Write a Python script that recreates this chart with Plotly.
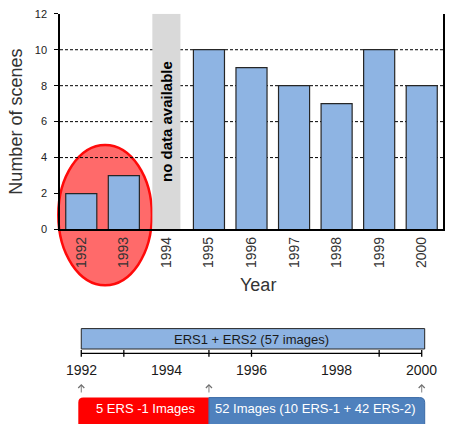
import plotly.graph_objects as go

# ---------------- data ----------------
years = ["1992", "1993", "1994", "1995", "1996", "1997", "1998", "1999", "2000"]
scenes = [2, 3, None, 10, 9, 8, 7, 10, 8]
no_data_years = ["1994"]
no_data_value = 12
grid_values = [4, 6, 8, 10]
y_ticks = [0, 2, 4, 6, 8, 10, 12]

timeline_start = 1992
timeline_end = 2000
timeline_split = 1995
timeline_label_years = [1992, 1994, 1996, 1998, 2000]
timeline_tick_years = [1992, 1993, 1995, 1996, 1999, 2000]
arrow_years = [1992, 1995, 2000]
top_box_text = "ERS1 + ERS2 (57 images)"
left_box_text = "5 ERS -1 Images"
right_box_text = "52 Images (10 ERS-1 + 42 ERS-2)"
highlight_years = ["1992", "1993"]

# ---------------- geometry (layout) ----------------
W, H = 449, 424
XD = [60 / W, 443 / W]
YD = [(H - 230) / H, (H - 8) / H]
YR = [0, 12]
n = len(years)
YEAR_PX = (XD[1] - XD[0]) * W / n  # pixels per year on the timeline


def cat_to_paper(c):
    return XD[0] + (c + 0.5) / n * (XD[1] - XD[0])


def val_to_paper(v):
    return YD[0] + (v - YR[0]) / (YR[1] - YR[0]) * (YD[1] - YD[0])


def py(pix):
    return (H - pix) / H


def rounded_bar(x0, x1, y0, y1, round_left, round_right, r_px=5):
    rx = r_px / YEAR_PX
    ry = r_px / H
    p = f"M{x0},{y0} "
    if round_left:
        p += f"L{x0},{y1 - ry} Q{x0},{y1} {x0 + rx},{y1} "
    else:
        p += f"L{x0},{y1} "
    if round_right:
        p += f"L{x1 - rx},{y1} Q{x1},{y1} {x1},{y1 - ry} "
    else:
        p += f"L{x1},{y1} "
    p += f"L{x1},{y0} Z"
    return p


fig = go.Figure()

# gray "no data" band
fig.add_trace(go.Bar(
    x=no_data_years, y=[no_data_value] * len(no_data_years),
    marker=dict(color="#d9d9d9", line=dict(width=0)),
    width=0.66, hoverinfo="skip", showlegend=False,
))
# data bars
fig.add_trace(go.Bar(
    x=years, y=scenes,
    marker=dict(color="#8eb4e3", line=dict(color="#262626", width=1.2)),
    width=0.73, showlegend=False,
))

shapes = []
# highlight ellipse around the first two years
i0 = years.index(highlight_years[0])
i1 = years.index(highlight_years[-1])
mid = (i0 + i1) / 2 + 0.06
shapes.append(dict(
    type="circle", xref="paper", yref="paper", layer="below",
    x0=cat_to_paper(mid - 1.1), x1=cat_to_paper(mid + 1.1),
    y0=val_to_paper(-3.1), y1=val_to_paper(4.7),
    fillcolor="rgba(255,90,90,0.9)", line=dict(color="#ff0a0a", width=2.5),
))
# dashed grid lines
for g in grid_values:
    shapes.append(dict(
        type="line", xref="paper", yref="y", layer="below",
        x0=XD[0], x1=XD[1], y0=g, y1=g,
        line=dict(color="black", width=1, dash="3px,2px"),
    ))

# timeline: top box
pad = 0.07
shapes.append(dict(
    type="rect", xref="x2", yref="paper", layer="below",
    x0=timeline_start, x1=timeline_end + pad, y0=py(353), y1=py(332),
    fillcolor="#8db3e2", line=dict(color="#262626", width=1),
))
# timeline axis line
shapes.append(dict(
    type="line", xref="x2", yref="paper",
    x0=timeline_start, x1=timeline_end, y0=py(357.5), y1=py(357.5),
    line=dict(color="black", width=1.3),
))
for t in timeline_tick_years:
    shapes.append(dict(
        type="line", xref="x2", yref="paper",
        x0=t, x1=t, y0=py(354), y1=py(361),
        line=dict(color="black", width=1.3),
    ))
# bottom bars
shapes.append(dict(
    type="path", xref="x2", yref="paper", layer="below",
    path=rounded_bar(timeline_start - pad, timeline_split, -0.02, py(403), True, False),
    fillcolor="#ff0000", line=dict(width=0),
))
shapes.append(dict(
    type="path", xref="x2", yref="paper", layer="below",
    path=rounded_bar(timeline_split, timeline_end + pad, -0.02, py(403), False, True),
    fillcolor="#4f81bd", line=dict(color="#3a6aa6", width=1),
))

annotations = []
annotations.append(dict(
    x=years.index(no_data_years[0]), y=6, xref="x", yref="y", text="<b>no data available</b>",
    textangle=-90, showarrow=False, xanchor="center", yanchor="middle",
    font=dict(family="Arial", size=15, color="black"),
))
annotations.append(dict(
    x=16 / W, y=val_to_paper(6), xref="paper", yref="paper", text="Number of scenes",
    textangle=-90, showarrow=False, xanchor="center", yanchor="middle",
    font=dict(family="Arial", size=18, color="#333333"),
))
annotations.append(dict(
    x=258 / W, y=py(287), xref="paper", yref="paper", text="Year",
    showarrow=False, xanchor="center", yanchor="middle",
    font=dict(family="Arial", size=18, color="#333333"),
))
annotations.append(dict(
    x=(timeline_start + timeline_end) / 2, y=py(343), xref="x2", yref="paper",
    text=top_box_text, showarrow=False, xanchor="center", yanchor="middle",
    font=dict(family="Arial", size=13, color="#1a1a1a"),
))
for t in timeline_label_years:
    annotations.append(dict(
        x=t, y=py(375), xref="x2", yref="paper", text=str(t), showarrow=False,
        xanchor="center", yanchor="middle",
        font=dict(family="Arial", size=14, color="#1a1a1a"),
    ))
for t in arrow_years:
    annotations.append(dict(
        x=t, y=py(389), xref="x2", yref="paper", text="", showarrow=True,
        ax=0, ay=10, arrowhead=4, arrowsize=1.3, arrowwidth=0.9, arrowcolor="#707070",
    ))
annotations.append(dict(
    x=(timeline_start + timeline_split) / 2, y=py(414), xref="x2", yref="paper",
    text=left_box_text, showarrow=False, xanchor="center", yanchor="middle",
    font=dict(family="Arial", size=13, color="white"),
))
annotations.append(dict(
    x=(timeline_split + timeline_end) / 2, y=py(414), xref="x2", yref="paper",
    text=right_box_text, showarrow=False, xanchor="center", yanchor="middle",
    font=dict(family="Arial", size=13, color="white"),
))

# dummy invisible trace on timeline axis
fig.add_trace(go.Scatter(x=[timeline_start, timeline_end], y=[0, 0], xaxis="x2", yaxis="y2",
                         mode="markers", marker=dict(opacity=0), hoverinfo="skip", showlegend=False))

fig.update_layout(
    width=W, height=H,
    margin=dict(l=0, r=0, t=0, b=0),
    paper_bgcolor="white", plot_bgcolor="rgba(0,0,0,0)",
    barmode="overlay",
    xaxis=dict(
        domain=XD, type="category", categoryorder="array", categoryarray=years,
        range=[-0.5, n - 0.5], showline=True, linecolor="black", linewidth=1.5,
        ticks="", tickangle=-90, showgrid=False, zeroline=False,
        tickfont=dict(family="Arial", size=14, color="#333333"),
    ),
    yaxis=dict(
        domain=YD, range=YR, tickvals=y_ticks, showline=True, mirror=True,
        linecolor="black", linewidth=1.5, ticks="outside", ticklen=4, tickcolor="black",
        showgrid=False, zeroline=False, ticklabelstandoff=5,
        tickfont=dict(family="Arial", size=11, color="#222222"),
    ),
    xaxis2=dict(domain=XD, range=[timeline_start - 0.5, timeline_end + 0.5], anchor="y2",
                visible=False),
    yaxis2=dict(domain=[0, 0.3], range=[0, 1], anchor="x2", visible=False),
    shapes=shapes,
    annotations=annotations,
)

fig.write_html("out.html")
